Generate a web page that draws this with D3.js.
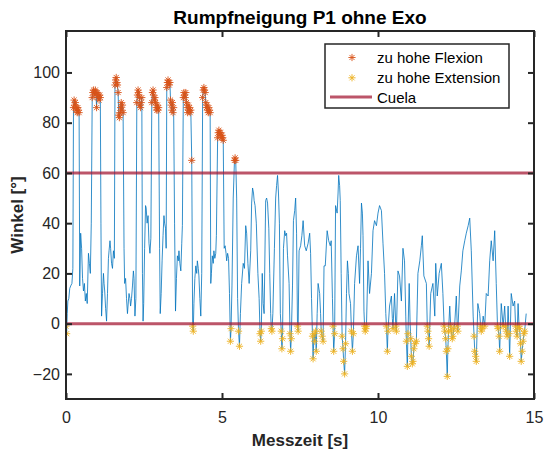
<!DOCTYPE html>
<html>
<head>
<meta charset="utf-8">
<script src="https://cdn.jsdelivr.net/npm/d3@7"></script>
<style>
  body { margin: 0; background: #fff; }
  svg { display: block; }
  text { font-family: "Liberation Sans", Arial, Helvetica, sans-serif; }
</style>
</head>
<body>
<svg id="chart" width="545" height="452"></svg>
<script>
// Rumpfneigung (trunk inclination) over time, seconds / degrees
const messzeit = [
  0.00,0.02,0.04,0.06,0.09,0.12,0.15,0.19,0.22,0.24,0.26,0.28,0.30,0.32,0.34,0.36,0.38,0.40,0.42,0.44,
  0.47,0.50,0.53,0.56,0.59,0.62,0.65,0.68,0.72,0.75,0.78,0.81,0.84,0.86,0.88,0.90,0.92,0.94,0.96,0.98,
  1.00,1.02,1.04,1.06,1.08,1.10,1.12,1.14,1.17,1.20,1.22,1.24,1.27,1.30,1.33,1.36,1.38,1.41,1.43,1.46,
  1.49,1.52,1.55,1.57,1.59,1.61,1.63,1.65,1.67,1.69,1.71,1.73,1.75,1.77,1.79,1.81,1.83,1.86,1.88,1.91,
  1.94,1.97,2.00,2.02,2.05,2.07,2.10,2.13,2.16,2.18,2.21,2.24,2.27,2.29,2.31,2.33,2.35,2.37,2.39,2.41,
  2.43,2.45,2.47,2.49,2.52,2.55,2.57,2.60,2.63,2.66,2.69,2.72,2.75,2.77,2.79,2.81,2.83,2.85,2.87,2.89,
  2.91,2.93,2.95,2.97,3.00,3.02,3.05,3.08,3.11,3.14,3.16,3.19,3.21,3.23,3.25,3.27,3.29,3.31,3.33,3.35,
  3.37,3.39,3.41,3.43,3.45,3.48,3.51,3.54,3.57,3.60,3.62,3.65,3.68,3.71,3.73,3.76,3.78,3.80,3.82,3.84,
  3.86,3.88,3.90,3.92,3.94,3.96,3.98,4.00,4.03,4.06,4.08,4.10,4.13,4.16,4.19,4.21,4.24,4.26,4.29,4.32,
  4.35,4.38,4.40,4.42,4.44,4.46,4.48,4.50,4.52,4.54,4.56,4.58,4.60,4.62,4.64,4.66,4.69,4.72,4.74,4.77,
  4.80,4.82,4.86,4.88,4.90,4.92,4.94,4.96,4.98,5.00,5.02,5.04,5.07,5.10,5.13,5.15,5.18,5.21,5.24,5.27,
  5.29,5.32,5.36,5.40,5.42,5.44,5.47,5.50,5.53,5.56,5.59,5.63,5.68,5.72,5.76,5.79,5.83,5.87,5.92,5.95,
  5.98,6.01,6.03,6.06,6.10,6.15,6.19,6.22,6.24,6.26,6.29,6.32,6.35,6.40,6.43,6.46,6.50,6.53,6.56,6.58,
  6.60,6.63,6.68,6.72,6.75,6.78,6.81,6.84,6.87,6.90,6.92,6.94,6.97,7.01,7.04,7.07,7.10,7.15,7.18,7.20,
  7.22,7.26,7.29,7.33,7.36,7.39,7.42,7.44,7.47,7.52,7.56,7.60,7.65,7.70,7.76,7.81,7.84,7.87,7.90,7.92,
  7.95,7.97,8.00,8.02,8.05,8.08,8.13,8.16,8.18,8.21,8.24,8.27,8.31,8.37,8.42,8.47,8.50,8.54,8.56,8.58,
  8.61,8.64,8.69,8.72,8.74,8.77,8.79,8.82,8.85,8.88,8.90,8.93,8.96,8.99,9.02,9.05,9.07,9.12,9.15,9.18,
  9.21,9.25,9.31,9.36,9.41,9.44,9.47,9.50,9.52,9.55,9.57,9.59,9.61,9.63,9.68,9.73,9.79,9.84,9.89,9.95,
  10.00,10.05,10.11,10.16,10.21,10.25,10.27,10.30,10.32,10.37,10.43,10.46,10.48,10.53,10.57,10.59,10.64,10.69,10.75,10.80,
  10.85,10.89,10.91,10.94,10.96,11.00,11.03,11.05,11.07,11.10,11.12,11.15,11.18,11.23,11.28,11.34,11.39,11.42,11.47,11.55,
  11.58,11.60,11.62,11.64,11.69,11.76,11.82,11.85,11.90,11.96,12.03,12.08,12.12,12.14,12.17,12.19,12.22,12.24,12.26,12.30,
  12.33,12.35,12.38,12.40,12.43,12.46,12.51,12.54,12.56,12.62,12.67,12.72,12.78,12.83,12.89,12.94,12.99,13.05,13.08,13.10,
  13.13,13.15,13.20,13.26,13.29,13.31,13.34,13.37,13.42,13.47,13.53,13.58,13.63,13.69,13.74,13.79,13.83,13.85,13.88,13.90,
  13.95,14.01,14.06,14.09,14.11,14.14,14.17,14.20,14.22,14.27,14.33,14.38,14.41,14.43,14.46,14.49,14.52,14.54,14.57,14.59,
  14.62,14.65,14.68,14.70,14.75
];
const winkel = [
  -1,-4,4,9,10,14,15,16,22,86,89,87,88,85,86,84,86,85,84,15,
  36,30,18,13,16,9,12,8,28,24,20,40,90,92,93,92,91,93,92,86,
  92,90,91,89,91,90,40,3,12,20,16,13,6,1,12,26,29,33,30,24,
  22,29,26,95,97,98,96,95,92,83,82,84,86,88,85,87,84,30,16,18,
  10,4,9,12,10,7,10,15,21,18,3,10,88,91,93,92,90,87,86,88,
  90,20,1,8,30,47,46,40,43,32,28,34,88,92,93,91,89,90,88,86,
  85,87,85,86,30,4,12,25,35,43,40,38,30,94,96,97,96,95,96,89,
  87,85,88,84,86,40,5,18,27,25,29,24,21,32,39,90,92,91,90,92,
  88,86,84,87,85,86,84,85,65,-1,-3,8,18,23,20,25,22,19,10,3,
  20,90,93,94,93,92,88,86,87,85,84,86,85,84,16,20,27,24,29,26,
  28,35,74,76,77,76,75,76,74,75,74,73,30,31,28,25,28,26,12,-7,
  -2,15,50,65,66,65,50,10,-3,-9,4,16,24,22,39,36,24,16,29,48,
  54,52,49,47,40,20,10,-4,-7,-3,20,8,4,49,50,48,38,20,4,-2,
  -3,4,30,50,55,59,52,40,4,-3,-10,-6,30,37,35,36,27,16,-4,-11,
  -6,15,41,45,50,36,-1,-3,29,31,35,41,31,29,32,36,28,10,-5,-14,
  -4,-7,-3,-11,4,16,12,4,-3,-5,-7,23,23,37,33,31,33,10,-1,-11,
  -4,47,44,52,59,55,49,20,-5,-10,-15,-20,-8,12,25,20,12,8,-3,-11,
  -4,16,27,31,16,30,48,44,35,5,-1,-3,-2,-1,25,12,20,37,41,39,
  44,47,45,32,20,4,-1,-11,-3,7,11,2,-2,12,-1,-3,21,19,9,30,
  25,3,-7,-17,-4,16,0,-6,-13,-16,-15,-10,-8,-7,20,25,31,35,19,16,
  -1,-3,-6,-9,12,16,3,24,11,20,24,12,-1,-3,-6,-11,-21,-10,-3,7,
  -1,-3,-6,-5,-2,0,11,-1,-3,15,21,29,33,36,39,42,29,3,-5,-11,
  -13,-15,8,4,-1,-3,-2,3,-1,12,11,25,33,25,37,16,-1,-2,-5,-11,
  8,-1,7,-1,-3,-5,7,-4,-13,12,7,9,-1,-3,-5,8,-1,-2,-8,-15,
  -11,-7,-4,-3,4
];

// Thresholds (Cuela reference lines)
const grenzeFlexion = 60;
const grenzeExtension = 0;

const xTicks = [0, 5, 10, 15];
const yTicks = [-20, 0, 20, 40, 60, 80, 100];
const xRange = [0, 15];
const yRange = [-30, 116.5];

const titel = "Rumpfneigung P1 ohne Exo";
const xLabel = "Messzeit [s]";
const yLabel = "Winkel [°]";
const legendeText = ["zu hohe Flexion", "zu hohe Extension", "Cuela"];

const farbeLinie = "#0072BD";
const farbeFlexion = "#D95319";
const farbeExtension = "#EDB120";
const farbeCuela = "#A2142F";
const farbeAchse = "#262626";

// ---- layout ----
const plot = { left: 66, right: 534, top: 31, bottom: 399 };
const svg = d3.select("#chart");

const x = d3.scaleLinear().domain(xRange).range([plot.left, plot.right]);
const y = d3.scaleLinear().domain(yRange).range([plot.bottom, plot.top]);

const daten = messzeit.map((t, i) => ({ t, v: winkel[i] }));
const flexion = daten.filter(d => d.v > grenzeFlexion);
const extension = daten.filter(d => d.v < grenzeExtension);

svg.append("defs").append("clipPath").attr("id", "clip")
  .append("rect")
  .attr("x", plot.left).attr("y", plot.top)
  .attr("width", plot.right - plot.left).attr("height", plot.bottom - plot.top);

const inhalt = svg.append("g").attr("clip-path", "url(#clip)");

// signal
inhalt.append("path")
  .datum(daten)
  .attr("fill", "none")
  .attr("stroke", farbeLinie)
  .attr("stroke-width", 0.8)
  .attr("stroke-linejoin", "round")
  .attr("d", d3.line().x(d => x(d.t)).y(d => y(d.v)));

// MATLAB-style asterisk marker
function stern(r) {
  const a = r * Math.SQRT1_2;
  return `M${-r},0L${r},0M0,${-r}L0,${r}M${-a},${-a}L${a},${a}M${-a},${a}L${a},${-a}`;
}

function marker(g, data, farbe) {
  g.selectAll(null).data(data).enter().append("path")
    .attr("transform", d => `translate(${x(d.t)},${y(d.v)})`)
    .attr("d", stern(3.6))
    .attr("fill", "none")
    .attr("stroke", farbe)
    .attr("stroke-width", 0.9);
}
marker(inhalt, flexion, farbeFlexion);
marker(inhalt, extension, farbeExtension);

// threshold lines
inhalt.selectAll(null).data([grenzeFlexion, grenzeExtension]).enter().append("line")
  .attr("x1", x(xRange[0])).attr("x2", x(xRange[1]))
  .attr("y1", d => y(d)).attr("y2", d => y(d))
  .attr("stroke", farbeCuela)
  .attr("stroke-opacity", 0.72)
  .attr("stroke-width", 3);

// ---- axes ----
const fontTick = 16;
function styleAxis(g) {
  g.select(".domain").remove();
  g.selectAll(".tick line").attr("stroke", farbeAchse).attr("stroke-width", 2);
  g.selectAll(".tick text").attr("fill", farbeAchse)
    .style("font-size", fontTick + "px")
    .style("font-family", '"Liberation Sans", Arial, Helvetica, sans-serif');
}

svg.append("g").attr("transform", `translate(0,${plot.bottom})`)
  .call(d3.axisBottom(x).tickValues(xTicks).tickSize(-6).tickPadding(13).tickFormat(d3.format("d")))
  .call(styleAxis);
svg.append("g").attr("transform", `translate(0,${plot.top})`)
  .call(d3.axisTop(x).tickValues(xTicks).tickSize(-6).tickFormat(""))
  .call(styleAxis);
svg.append("g").attr("transform", `translate(${plot.left},0)`)
  .call(d3.axisLeft(y).tickValues(yTicks).tickSize(-6).tickPadding(6).tickFormat(d3.format("d")))
  .call(styleAxis);
svg.append("g").attr("transform", `translate(${plot.right},0)`)
  .call(d3.axisRight(y).tickValues(yTicks).tickSize(-6).tickFormat(""))
  .call(styleAxis);

svg.append("rect")
  .attr("x", plot.left).attr("y", plot.top)
  .attr("width", plot.right - plot.left).attr("height", plot.bottom - plot.top)
  .attr("fill", "none").attr("stroke", farbeAchse).attr("stroke-width", 2);

// ---- titles ----
svg.append("text")
  .attr("x", (plot.left + plot.right) / 2).attr("y", 24)
  .attr("text-anchor", "middle")
  .style("font-size", "19px").style("font-weight", "bold")
  .attr("fill", "#000")
  .text(titel);

svg.append("text")
  .attr("x", (plot.left + plot.right) / 2).attr("y", 446)
  .attr("text-anchor", "middle")
  .style("font-size", "17px").style("font-weight", "bold")
  .attr("fill", farbeAchse)
  .text(xLabel);

svg.append("text")
  .attr("transform", `translate(23,${(plot.top + plot.bottom) / 2}) rotate(-90)`)
  .attr("text-anchor", "middle")
  .style("font-size", "17px").style("font-weight", "bold")
  .attr("fill", farbeAchse)
  .text(yLabel);

// ---- legend ----
const leg = svg.append("g");
leg.append("rect")
  .attr("x", 325).attr("y", 44).attr("width", 184).attr("height", 64)
  .attr("fill", "#fff").attr("stroke", farbeAchse).attr("stroke-width", 1.5);

const zeilen = [
  { text: legendeText[0], typ: "stern", farbe: farbeFlexion },
  { text: legendeText[1], typ: "stern", farbe: farbeExtension },
  { text: legendeText[2], typ: "linie", farbe: farbeCuela }
];
zeilen.forEach((z, i) => {
  const yc = 57.5 + i * 20.3;
  if (z.typ === "stern") {
    leg.append("path")
      .attr("transform", `translate(352,${yc})`)
      .attr("d", stern(3.6))
      .attr("fill", "none").attr("stroke", z.farbe).attr("stroke-width", 0.9);
  } else {
    leg.append("line")
      .attr("x1", 330).attr("x2", 372).attr("y1", yc - 1).attr("y2", yc - 1)
      .attr("stroke", z.farbe).attr("stroke-opacity", 0.72).attr("stroke-width", 3);
  }
  leg.append("text")
    .attr("x", 377).attr("y", yc + 5.2)
    .style("font-size", "15px")
    .attr("fill", "#000")
    .text(z.text);
});
</script>
</body>
</html>
